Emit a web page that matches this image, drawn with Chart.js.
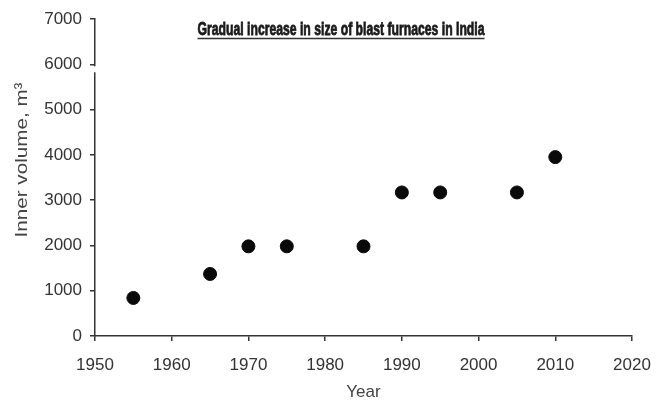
<!DOCTYPE html>
<html>
<head>
<meta charset="utf-8">
<script src="https://cdn.jsdelivr.net/npm/chart.js@4"></script>
<style>
  body { margin: 0; background: #fff; }
  #wrap { width: 670px; height: 403px; }
</style>
</head>
<body>
<div id="wrap"><canvas id="furnaceChart" width="670" height="403"></canvas></div>
<script>
// data
const years = [1955, 1965, 1970, 1975, 1985, 1990, 1995, 2005, 2010];
const volumes = [840, 1370, 1980, 1980, 1980, 3170, 3170, 3170, 3950];
const xTicks = [1950, 1960, 1970, 1980, 1990, 2000, 2010, 2020];
const yTicks = [0, 1000, 2000, 3000, 4000, 5000, 6000, 7000];
const chartTitle = 'Gradual increase in size of blast furnaces in India';
const yLabel = 'Inner volume, m\u00B3';

document.addEventListener('DOMContentLoaded', function () {
    const ctx = document.getElementById('furnaceChart').getContext('2d');

    // draws text squeezed/stretched to a given width
    function fitText(c, text, x, y, width, heavy) {
        const w = c.measureText(text).width;
        c.save();
        c.translate(x, y);
        c.scale(width / w, 1);
        if (heavy) {
            c.strokeStyle = c.fillStyle;
            c.lineWidth = 0.8;
            c.strokeText(text, 0, 0);
        }
        c.fillText(text, 0, 0);
        c.restore();
    }

    // underlined title, rotated y label, small break in the y axis
    const extrasPlugin = {
        id: 'extras',
        afterDraw: function (chart) {
            const c = chart.ctx;
            c.save();
            c.textAlign = 'center';
            c.textBaseline = 'alphabetic';
            c.fillStyle = '#1a1a1a';
            c.font = 'bold 18px "Liberation Sans", Arial, sans-serif';
            fitText(c, chartTitle, 341, 35, 287, true);
            c.strokeStyle = '#333';
            c.lineWidth = 1.5;
            c.beginPath();
            c.moveTo(341 - 143.5, 38.5);
            c.lineTo(341 + 143.5, 38.5);
            c.stroke();

            c.save();
            c.translate(22, 160);
            c.rotate(-Math.PI / 2);
            c.textBaseline = 'middle';
            c.fillStyle = '#444';
            c.font = '17px "Liberation Sans", Arial, sans-serif';
            fitText(c, yLabel, 0, 0, 155, false);
            c.restore();

            // gap in the axis line just under 6000
            const ys = chart.scales.y;
            const y6 = ys.getPixelForValue(6000);
            c.fillStyle = '#fff';
            c.fillRect(ys.right - 2, y6 + 2, 4, 6);
            c.restore();
        }
    };

    new Chart(ctx, {
        type: 'scatter',
        data: {
            datasets: [{
                label: 'Inner volume',
                data: years.map(function (y, i) { return { x: y, y: volumes[i] }; }),
                backgroundColor: '#0a0a0a',
                borderColor: '#0a0a0a',
                pointRadius: 6.5,
                pointHoverRadius: 6.5
            }]
        },
        options: {
            responsive: false,
            animation: false,
            layout: { padding: { left: 0, right: 38, top: 19, bottom: 0 } },
            plugins: {
                legend: { display: false },
                tooltip: { enabled: false }
            },
            scales: {
                x: {
                    type: 'linear',
                    min: 1950,
                    max: 2020,
                    afterBuildTicks: function (axis) {
                        axis.ticks = xTicks.map(function (v) { return { value: v }; });
                    },
                    afterFit: function (axis) { axis.height = 67; },
                    grid: { display: true, drawOnChartArea: false, drawTicks: true, tickLength: 5, color: '#333', lineWidth: 1.5 },
                    border: { display: true, color: '#333', width: 1.5 },
                    ticks: {
                        color: '#333',
                        font: { size: 17, family: 'Liberation Sans, Arial, sans-serif' },
                        padding: 14,
                        callback: function (v) { return String(v); }
                    },
                    title: { display: true, text: 'Year', color: '#444', font: { size: 17, family: 'Liberation Sans, Arial, sans-serif' }, padding: { top: 0, bottom: 0 } }
                },
                y: {
                    min: 0,
                    max: 7000,
                    afterBuildTicks: function (axis) {
                        axis.ticks = yTicks.map(function (v) { return { value: v }; });
                    },
                    afterFit: function (axis) { axis.width = 95; },
                    grid: { display: true, drawOnChartArea: false, drawTicks: true, tickLength: 5, color: '#333', lineWidth: 1.5 },
                    border: { display: true, color: '#333', width: 1.5 },
                    ticks: {
                        color: '#333',
                        font: { size: 17, family: 'Liberation Sans, Arial, sans-serif' },
                        padding: 8,
                        callback: function (v) { return String(v); }
                    },
                    title: { display: false }
                }
            }
        },
        plugins: [extrasPlugin]
    });
});
</script>
</body>
</html>
